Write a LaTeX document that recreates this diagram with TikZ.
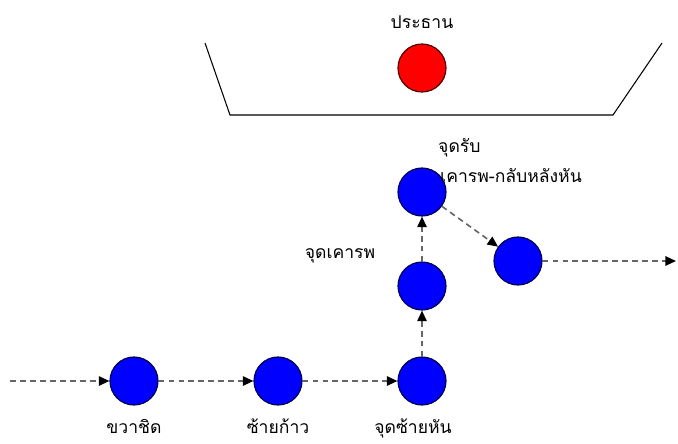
\documentclass[tikz,border=0pt]{standalone}
\usepackage{fontspec}
\newfontfamily\thaifont[Script=Thai]{Loma}
\usetikzlibrary{arrows.meta}

\begin{document}
\begin{tikzpicture}[x=0.03cm,y=-0.03cm,every node/.style={font=\thaifont\fontsize{15}{18}\selectfont,anchor=base},
  spot/.style={circle,anchor=center,draw=blue!30!black,line width=1pt,fill=blue,minimum size=1.44cm,inner sep=0pt},
  chief/.style={spot,draw=red!30!black,fill=red},
  walk/.style={line width=1.4pt,black!60,dash pattern=on 5pt off 3.5pt,-{Triangle[black,length=9pt,width=8pt]}}]
\useasboundingbox (0,0) rectangle (678,443);
% stage
\draw[line width=0.9pt](205,43)--(230,115)--(613,115)--(662,43);
\node[chief](prez) at (422,68){}; \node(prezlbl) at (422,28){ประธาน};
% marching points
\node[spot](right) at (134,381){}; \node[spot](left) at (278,381){}; \node[spot](turn) at (422,381){};
\node[spot](salute) at (422,286){}; \node[spot](recv) at (422,192){}; \node[spot](back) at (518,261){};
\coordinate(in) at (10,381); \coordinate(out) at (676,261);
\draw[walk](in)--(right); \draw[walk](right)--(left); \draw[walk](left)--(turn);
\draw[walk](turn)--(salute); \draw[walk](salute)--(recv); \draw[walk](recv)--(back);
\draw[walk](back)--(out);
% labels
\node(rightlbl) at (134,433){ขวาชิด}; \node(leftlbl) at (278,433){ซ้ายก้าว};
\node(turnlbl) at (413,433){จุดซ้ายหัน}; \node(salutelbl) at (340,258){จุดเคารพ};
\node[anchor=base west,inner sep=0pt](recvlbl) at (438,152){จุดรับ};
\node[anchor=base west,inner sep=0pt](recvlbltwo) at (440,182){เคารพ-กลับหลังหัน};
\end{tikzpicture}
\end{document}
